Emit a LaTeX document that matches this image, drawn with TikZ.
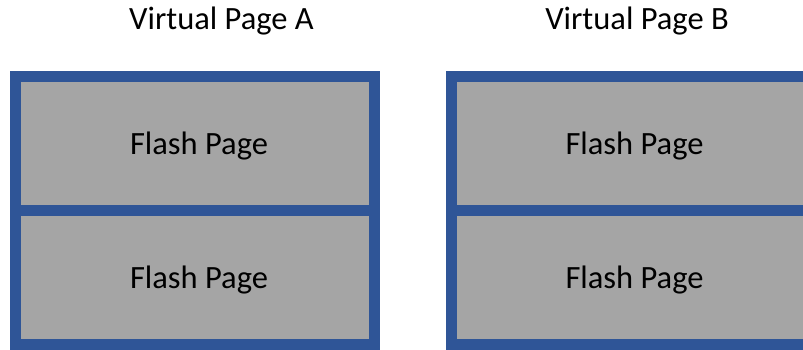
\documentclass[tikz,border=0pt]{standalone}
\usepackage{fontspec}
\setmainfont{Carlito}
\usepackage{tikz}
\usetikzlibrary{positioning}
\definecolor{pgblue}{RGB}{47,85,151}
\definecolor{pggray}{RGB}{165,165,165}
\tikzset{
  fpg/.style={rectangle,draw=pgblue,fill=pggray,line width=11pt,minimum width=359pt,
    minimum height=134pt,inner sep=0pt,outer sep=0pt,text depth=0pt,
    font=\fontsize{32.5}{38}\selectfont},
  vlb/.style={anchor=base,inner sep=0pt,font=\fontsize{32.5}{38}\selectfont},
}

\begin{document}
\begin{tikzpicture}[x=1pt,y=-1pt]
\useasboundingbox (0,0) rectangle (803,350);
% ============================= virtual page A
\node[vlb] (vA) at (221.5,30) {Virtual Page A};
\node[fpg] (fA1) at (195,143.5) {\hspace*{8pt}Flash Page};
\node[fpg,below=0pt of fA1] (fA2) {\hspace*{8pt}Flash Page};
% ============================= virtual page B
\node[vlb] (vB) at (637,30) {Virtual Page B};
\node[fpg] (fB1) at (630.5,143.5) {\hspace*{8pt}Flash Page};
\node[fpg,below=0pt of fB1] (fB2) {\hspace*{8pt}Flash Page};
\end{tikzpicture}
\end{document}
